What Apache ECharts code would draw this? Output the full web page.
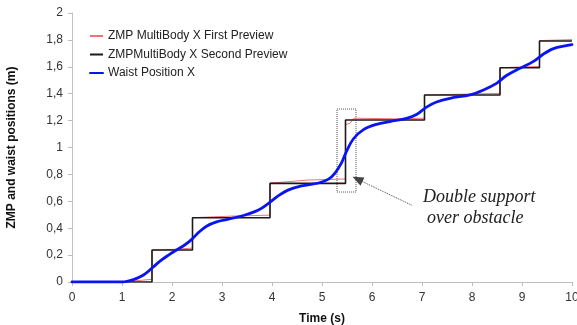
<!DOCTYPE html>
<html>
<head>
<meta charset="utf-8">
<script src="https://cdn.jsdelivr.net/npm/echarts@6/dist/echarts.min.js"></script>
<style>
  html, body { margin: 0; padding: 0; background: #fff; }
  #chart { width: 577px; height: 325px; }
</style>
</head>
<body>
<div id="chart"></div>
<script>
// ---- data ----
const seriesNames = ['ZMP MultiBody X First Preview', 'ZMPMultiBody X Second Preview', 'Waist Position X'];

// First preview ZMP (red), time (s) and value (m)
const redT = [0, 1.0, 1.6, 1.6, 2.0, 2.41, 2.41, 3.2, 3.96, 3.96, 4.3, 4.7, 5.47, 5.47, 5.56, 5.64, 6.5, 7.05, 7.05, 8.0, 8.56, 8.56, 9.0, 9.35, 9.35, 10];
const redV = [0, 0, 0.02, 0.235, 0.242, 0.252, 0.478, 0.49, 0.497, 0.735, 0.745, 0.758, 0.766, 1.17, 1.18, 1.218, 1.213, 1.218, 1.39, 1.398, 1.402, 1.593, 1.599, 1.602, 1.795, 1.802];

// Second preview ZMP (black), step changes: time of step and new level
const stepT = [0, 1.6, 2.41, 3.96, 5.47, 7.05, 8.56, 9.35, 10];
const stepV = [0, 0.238, 0.478, 0.733, 1.204, 1.39, 1.593, 1.792, 1.792];

// Waist position (blue)
const blueT = [0, 1.0, 1.23, 1.43, 1.59, 1.76, 1.93, 2.09, 2.26, 2.39, 2.53, 2.69, 2.89, 3.13, 3.46, 3.73, 3.93, 4.13, 4.33, 4.59, 4.93, 5.13, 5.26, 5.39, 5.49, 5.63, 5.83, 6.09, 6.36, 6.69, 6.89, 7.09, 7.29, 7.56, 7.96, 8.23, 8.49, 8.69, 8.96, 9.23, 9.43, 9.63, 9.89, 10];
const blueV = [0, 0, 0.018, 0.052, 0.10, 0.155, 0.20, 0.238, 0.277, 0.315, 0.368, 0.415, 0.447, 0.467, 0.498, 0.535, 0.585, 0.642, 0.685, 0.714, 0.736, 0.765, 0.81, 0.885, 0.972, 1.065, 1.133, 1.172, 1.193, 1.217, 1.245, 1.30, 1.338, 1.366, 1.392, 1.428, 1.477, 1.535, 1.589, 1.640, 1.695, 1.735, 1.757, 1.765];

// tick labels
const yTickValues = [0, 0.2, 0.4, 0.6, 0.8, 1, 1.2, 1.4, 1.6, 1.8, 2];
const yTickLabels = ['0', '0,2', '0,4', '0,6', '0,8', '1', '1,2', '1,4', '1,6', '1,8', '2'];

// annotation (data coordinates)
const boxT = [5.3, 5.68];
const boxV = [0.669, 1.286];
const arrowFrom = [6.79, 0.572];
const arrowTo = [5.71, 0.764];
const noteLines = ['Double support', 'over obstacle'];

// ---- chart ----
const zip = (a, b) => a.map((v, i) => [v, b[i]]);
const chart = echarts.init(document.getElementById('chart'), null, { renderer: 'canvas' });
const font = '"Liberation Sans", Arial, sans-serif';

chart.setOption({
  animation: false,
  backgroundColor: '#fff',
  grid: { left: 72, right: 5, top: 13, bottom: 43, containLabel: false, outerBoundsMode: 'none' },
  legend: {
    orient: 'vertical',
    left: 89,
    top: 30,
    padding: 0,
    itemWidth: 13,
    itemHeight: 12,
    itemGap: 6.5,
    data: seriesNames,
    itemStyle: { color: 'transparent', borderColor: 'transparent', borderWidth: 0 },
    textStyle: { fontFamily: font, fontSize: 12, color: '#222' }
  },
  xAxis: {
    type: 'value',
    min: 0, max: 10, interval: 1,
    name: 'Time (s)',
    nameLocation: 'middle',
    nameGap: 31,
    nameTextStyle: { fontFamily: font, fontSize: 12, fontWeight: 'bold', color: '#111' },
    axisLine: { show: true, lineStyle: { color: '#bdbdbd', width: 1 } },
    axisTick: { show: true, length: 4, lineStyle: { color: '#bdbdbd' } },
    axisLabel: { fontFamily: font, fontSize: 12, color: '#333', margin: 10 },
    splitLine: { show: false }
  },
  yAxis: {
    type: 'value',
    min: 0, max: 2, interval: 0.2,
    name: 'ZMP and waist positions (m)',
    nameLocation: 'middle',
    nameGap: 54,
    nameTextStyle: { fontFamily: font, fontSize: 12, fontWeight: 'bold', color: '#111' },
    axisLine: { show: true, lineStyle: { color: '#c9bfc0', width: 1 } },
    axisTick: { show: true, length: 4, lineStyle: { color: '#bdbdbd' } },
    axisLabel: {
      fontFamily: font, fontSize: 12, color: '#333', margin: 9,
      formatter: v => {
        const i = yTickValues.findIndex(t => Math.abs(t - v) < 1e-6);
        return i >= 0 ? yTickLabels[i] : String(v).replace('.', ',');
      }
    },
    splitLine: { show: false }
  },
  series: [
    {
      name: seriesNames[0],
      type: 'line',
      data: zip(redT, redV),
      showSymbol: false,
      symbol: 'none',
      z: 2,
      lineStyle: { color: '#f07272', width: 1 },
      itemStyle: { color: '#f07272' }
    },
    {
      name: seriesNames[1],
      type: 'line',
      step: 'end',
      data: zip(stepT, stepV),
      showSymbol: false,
      symbol: 'none',
      z: 3,
      lineStyle: { color: '#1a1a1a', width: 1.6 },
      itemStyle: { color: '#1a1a1a' },
      markArea: {
        silent: true,
        itemStyle: { color: 'rgba(0,0,0,0)', borderColor: '#555', borderWidth: 1, borderType: 'dotted' },
        label: { show: false },
        data: [[{ coord: [boxT[0], boxV[1]] }, { coord: [boxT[1], boxV[0]] }]]
      },
      markLine: {
        silent: true,
        symbol: ['none', 'triangle'],
        symbolSize: [9, 11],
        label: { show: false },
        lineStyle: { color: '#444', width: 1, type: 'dotted' },
        data: [[{ coord: arrowFrom }, { coord: arrowTo }]]
      }
    },
    {
      name: seriesNames[2],
      type: 'line',
      data: zip(blueT, blueV),
      smooth: 0.35,
      showSymbol: false,
      symbol: 'none',
      z: 4,
      lineStyle: { color: '#0a14f0', width: 2.8, cap: 'round', join: 'round' },
      itemStyle: { color: '#0a14f0' }
    }
  ],
  graphic: [
    {
      type: 'text', x: 423, y: 197, silent: true,
      style: { text: noteLines[0], font: 'italic 18px "Liberation Serif", "Times New Roman", serif', fill: '#222', verticalAlign: 'middle', align: 'left' }
    },
    {
      type: 'text', x: 427, y: 218, silent: true,
      style: { text: noteLines[1], font: 'italic 18px "Liberation Serif", "Times New Roman", serif', fill: '#222', verticalAlign: 'middle', align: 'left' }
    }
  ]
});
</script>
</body>
</html>
